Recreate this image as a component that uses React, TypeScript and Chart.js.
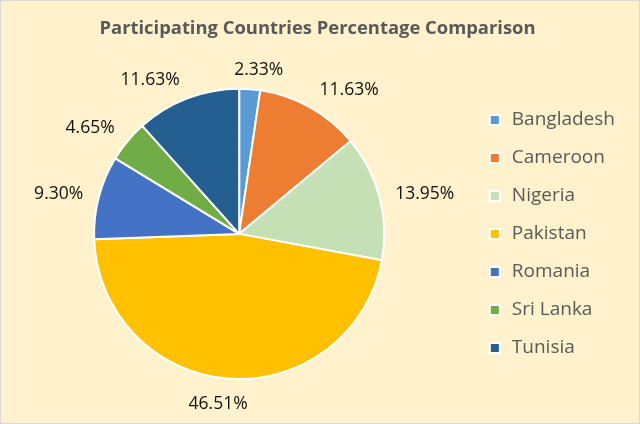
import React, { useEffect, useRef } from "react";
import { Chart, registerables } from "chart.js";

Chart.register(...registerables);

const categories = ["Bangladesh", "Cameroon", "Nigeria", "Pakistan", "Romania", "Sri Lanka", "Tunisia"];
const participants = [1, 5, 6, 20, 4, 2, 5];
const sliceColors = ["#5B9BD5", "#ED7D31", "#C5E0B4", "#FFC000", "#4472C4", "#70AD47", "#255E91"];
const chartTitle = "Participating Countries Percentage Comparison";

const clamp = (v: number, lo: number, hi: number) => Math.max(lo, Math.min(hi, v));

const outsideLabels = {
  id: "outsideLabels",
  afterDatasetsDraw(chart: any) {
    const ctx = chart.ctx;
    const meta = chart.getDatasetMeta(0);
    const data: number[] = chart.data.datasets[0].data;
    const total = data.reduce((a, b) => a + b, 0);
    ctx.save();
    ctx.font = '17.5px "Open Sans"';
    ctx.fillStyle = "#111111";
    ctx.textAlign = "center";
    ctx.textBaseline = "middle";
    meta.data.forEach((arc: any, i: number) => {
      const { x, y, startAngle, endAngle, outerRadius } = arc.getProps(
        ["x", "y", "startAngle", "endAngle", "outerRadius"],
        true
      );
      const mid = (startAngle + endAngle) / 2;
      const dx = Math.cos(mid);
      const dy = Math.sin(mid);
      const text = ((data[i] / total) * 100).toFixed(2) + "%";
      const w = ctx.measureText(text).width;
      const dist = outerRadius + 13;
      const px = x + dx * dist;
      const py = y + dy * dist;
      const cx = px + (w / 2 + 3) * clamp(dx * 4, -1, 1);
      const cy = py + 9 * clamp(dy * 1.4, -1, 1) + 3;
      ctx.fillText(text, cx, cy);
    });
    ctx.restore();
  },
};

export default function App() {
  const canvasRef = useRef<HTMLCanvasElement | null>(null);

  useEffect(() => {
    if (!canvasRef.current) return;
    const chart = new Chart(canvasRef.current, {
      type: "pie",
      data: {
        labels: categories,
        datasets: [
          {
            data: participants,
            backgroundColor: sliceColors,
            borderColor: "#FFFFFF",
            borderWidth: 2,
          },
        ],
      },
      options: {
        responsive: false,
        animation: false,
        devicePixelRatio: 1,
        layout: { padding: { left: 9, right: 14, top: 0, bottom: 43 } },
        plugins: {
          title: {
            display: true,
            text: chartTitle,
            color: "#595959",
            font: { family: '"Open Sans"', size: 18.4, weight: "bold" },
            padding: { top: 16.7, bottom: 48 },
          },
          legend: {
            position: "right",
            fullSize: false,
            labels: {
              usePointStyle: true,
              pointStyle: "rect",
              boxWidth: 15,
              boxHeight: 10,
              padding: 19,
              color: "#595959",
              font: { family: '"Open Sans"', size: 19 },
            },
          },
          tooltip: { enabled: false },
        },
      },
      plugins: [outsideLabels],
    });
    return () => chart.destroy();
  }, []);

  return (
    <div
      style={{
        position: "absolute",
        left: 0,
        top: 0,
        width: 640,
        height: 424,
        boxSizing: "border-box",
        border: "1px solid #D9D9D9",
        background: "#FFF2CC",
      }}
    >
      <canvas ref={canvasRef} width={638} height={422} style={{ display: "block" }} />
    </div>
  );
}
